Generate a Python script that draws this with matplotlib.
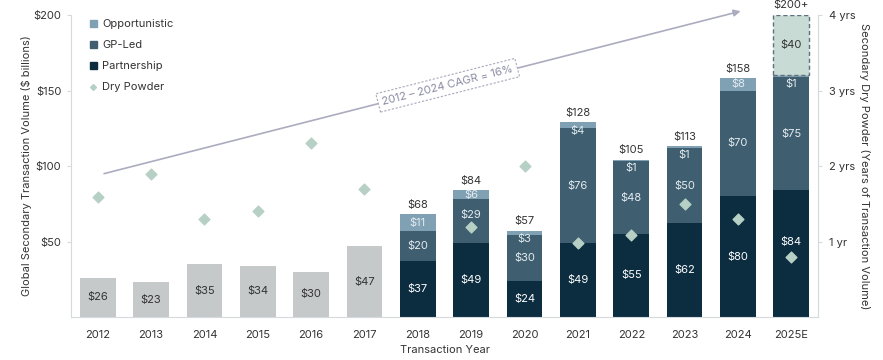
import numpy as np
import matplotlib
matplotlib.use("Agg")
import matplotlib.pyplot as plt
from matplotlib.lines import Line2D
from matplotlib.patches import Patch

plt.rcParams['font.family'] = ['Inter', 'DejaVu Sans']

# ---- data ----
years = ['2012', '2013', '2014', '2015', '2016', '2017', '2018', '2019',
         '2020', '2021', '2022', '2023', '2024', '2025E']
total_early = [26, 23, 35, 34, 30, 47]          # 2012-2017, no split
partnership = [37, 49, 24, 49, 55, 62, 80, 84]   # 2018-2025E
gp_led = [20, 29, 30, 76, 48, 50, 70, 75]
opportunistic = [11, 6, 3, 4, 1, 1, 8, 1]
totals_label = ['$68', '$84', '$57', '$128', '$105', '$113', '$158', '$200+']
estimate_extra = 40
dry_powder = [1.59, 1.89, 1.30, 1.40, 2.30, 1.70, np.nan, 1.19,
              2.00, 0.98, 1.09, 1.50, 1.30, 0.79]
cagr_text = '2012 – 2024 CAGR = 16%'

# ---- colours ----
c_gray = '#c6c9ca'
c_part = '#0c2c40'
c_gp = '#3f5f71'
c_opp = '#80a1b4'
c_est = '#c9dbd5'
c_dia = '#b7d0c6'
c_spine = '#d5dadd'
c_text = '#333333'
c_light = '#e4ecf0'

fig = plt.figure(figsize=(8.83, 3.6), dpi=100)
ax = fig.add_axes([0.0804, 0.1194, 0.846, 0.8389])
x = np.arange(len(years))
w = 0.67

# early years
xe = x[:6]
ax.bar(xe, total_early, w, color=c_gray, zorder=2)
for xi, v in zip(xe, total_early):
    ax.text(xi, v / 2, f'${v}', ha='center', va='center', fontsize=8, color=c_text, zorder=4)

# split years
xs = x[6:]
part = np.array(partnership)
gp = np.array(gp_led)
opp = np.array(opportunistic)
ax.bar(xs, part, w, color=c_part, zorder=2)
ax.bar(xs, gp, w, bottom=part, color=c_gp, zorder=2)
ax.bar(xs, opp, w, bottom=part + gp, color=c_opp, zorder=2)
# 2025E estimate box
ax.bar(xs[-1], estimate_extra, w, bottom=(part + gp + opp)[-1], color=c_est,
       edgecolor='#5d717c', linestyle=(0, (3, 2)), linewidth=1.0, zorder=2)
ax.text(xs[-1], (part + gp + opp)[-1] + estimate_extra / 2, f'${estimate_extra}',
        ha='center', va='center', fontsize=8, color=c_text, zorder=4)

for i, xi in enumerate(xs):
    py = part[i] / 2
    if i == len(xs) - 1:
        py = part[i] - 34   # lifted clear of the dry powder marker
    ax.text(xi, py, f'${part[i]}', ha='center', va='center', fontsize=8, color='white', zorder=6)
    gy = part[i] + gp[i] / 2
    if i == 1:
        gy += 4
    ax.text(xi, gy, f'${gp[i]}', ha='center', va='center', fontsize=8, color=c_light, zorder=6)
    top = part[i] + gp[i] + opp[i]
    oy = part[i] + gp[i] + opp[i] / 2 if opp[i] >= 6 else top - 5.5
    ax.text(xi, oy, f'${opp[i]}', ha='center', va='center', fontsize=8, color=c_light, zorder=6)
    if i == len(xs) - 1:
        top += estimate_extra
    ax.text(xi, top + 3, totals_label[i], ha='center', va='bottom', fontsize=8, color=c_text, zorder=4)

ax.set_xlim(-0.5, 13.5)
ax.set_ylim(0, 200)
ax.set_xticks(x)
ax.set_xticklabels(years, fontsize=8, color=c_text)
ax.set_yticks([50, 100, 150, 200])
ax.set_yticklabels(['$50', '$100', '$150', '$200'], fontsize=8, color=c_text)
ax.tick_params(axis='x', length=0, pad=9)
ax.tick_params(axis='y', length=3, color=c_spine, pad=4)
ax.spines['top'].set_visible(False)
for s in ['left', 'bottom', 'right']:
    ax.spines[s].set_color(c_spine)
ax.set_xlabel('Transaction Year', fontsize=8, color=c_text, labelpad=4)
ax.set_ylabel('Global Secondary Transaction Volume ($ billions)', fontsize=8, color=c_text, labelpad=1)

# dry powder on right axis
ax2 = ax.twinx()
ax2.set_ylim(0, 4)
ax2.scatter(x, dry_powder, marker='D', s=30, color=c_dia, zorder=5)
ax2.set_yticks([1, 2, 3, 4])
ax2.set_yticklabels(['1 yr', '2 yrs', '3 yrs', '4 yrs'], fontsize=8, color=c_text)
ax2.tick_params(axis='y', length=3, color=c_spine, pad=5)
for s in ['top', 'left', 'bottom']:
    ax2.spines[s].set_visible(False)
ax2.spines['right'].set_color(c_spine)
ax2.set_ylabel('Secondary Dry Powder (Years of Transaction Volume)', fontsize=8,
               color=c_text, rotation=270, labelpad=10)

# CAGR arrow
ax.annotate('', xy=(12.1, 203), xytext=(0.07, 94.5),
            arrowprops=dict(arrowstyle='-|>', color='#acacc0', lw=1.2, mutation_scale=10),
            annotation_clip=False, zorder=3)
ax.text(6.56, 153.5, cagr_text, rotation=14.3, rotation_mode='anchor', ha='center', va='center',
        fontsize=8, color='#8a8aa3', zorder=6,
        bbox=dict(boxstyle='square,pad=0.4', fc='white', ec='#a9a9bd', ls=(0, (2, 1.5)), lw=0.8))

handles = [Patch(color=c_opp), Patch(color=c_gp), Patch(color=c_part),
           Line2D([], [], marker='D', ls='', color=c_dia, markersize=3)]
leg = ax.legend(handles, ['Opportunistic', 'GP-Led', 'Partnership', 'Dry Powder'],
                loc='upper left', bbox_to_anchor=(0.012, 1.02), frameon=False, fontsize=8,
                handlelength=0.6, handleheight=0.6, handletextpad=0.5, labelspacing=1.0)
for t in leg.get_texts():
    t.set_color(c_text)

fig.savefig('out.png', dpi=100)
